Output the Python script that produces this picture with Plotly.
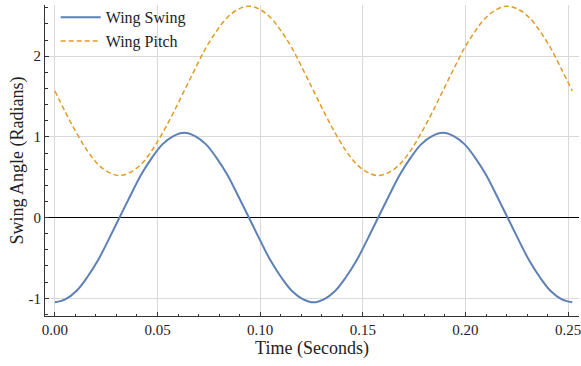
import plotly.graph_objects as go

# Sampled time points (seconds)
time_s = [0.0, 0.00525, 0.0105, 0.01575, 0.021, 0.02625, 0.0315, 0.03675, 0.042, 0.04725,
          0.0525, 0.05775, 0.063, 0.06825, 0.0735, 0.07875, 0.084, 0.08925, 0.0945, 0.09975,
          0.105, 0.11025, 0.1155, 0.12075, 0.126, 0.13125, 0.1365, 0.14175, 0.147, 0.15225,
          0.1575, 0.16275, 0.168, 0.17325, 0.1785, 0.18375, 0.189, 0.19425, 0.1995, 0.20475,
          0.21, 0.21525, 0.2205, 0.22575, 0.231, 0.23625, 0.2415, 0.24675, 0.252]

# Wing swing angle (radians)
wing_swing = [-1.05, -1.01, -0.91, -0.74, -0.53, -0.27, 0.0, 0.27, 0.53, 0.74,
              0.91, 1.01, 1.05, 1.01, 0.91, 0.74, 0.53, 0.27, 0.0, -0.27,
              -0.53, -0.74, -0.91, -1.01, -1.05, -1.01, -0.91, -0.74, -0.53, -0.27,
              0.0, 0.27, 0.53, 0.74, 0.91, 1.01, 1.05, 1.01, 0.91, 0.74,
              0.53, 0.27, 0.0, -0.27, -0.53, -0.74, -0.91, -1.01, -1.05]

# Wing pitch angle (radians)
wing_pitch = [1.57, 1.30, 1.05, 0.83, 0.66, 0.56, 0.52, 0.56, 0.66, 0.83,
              1.05, 1.30, 1.57, 1.84, 2.10, 2.31, 2.48, 2.58, 2.62, 2.58,
              2.48, 2.31, 2.10, 1.84, 1.57, 1.30, 1.05, 0.83, 0.66, 0.56,
              0.52, 0.56, 0.66, 0.83, 1.05, 1.30, 1.57, 1.84, 2.10, 2.31,
              2.48, 2.58, 2.62, 2.58, 2.48, 2.31, 2.10, 1.84, 1.57]

x_ticks = [0.0, 0.05, 0.10, 0.15, 0.20, 0.25]
x_tick_labels = ["0.00", "0.05", "0.10", "0.15", "0.20", "0.25"]
y_ticks = [-1, 0, 1, 2]
y_tick_labels = ["-1", "0", "1", "2"]

FONT = "Liberation Serif"

fig = go.Figure()
fig.add_trace(go.Scatter(x=time_s, y=wing_swing, mode="lines", name="Wing Swing",
                         line=dict(color="#5E81B5", width=2, shape="spline")))
fig.add_trace(go.Scatter(x=time_s, y=wing_pitch, mode="lines", name="Wing Pitch",
                         line=dict(color="#E19C24", width=1.5, dash="5px,3px", shape="spline")))

fig.update_layout(
    width=581, height=366,
    margin=dict(l=45, r=0, t=0, b=50),
    paper_bgcolor="white", plot_bgcolor="white",
    font=dict(family=FONT, size=15, color="#222222"),
    showlegend=True,
    legend=dict(x=0.02, y=1.015, xanchor="left", yanchor="top",
                bgcolor="rgba(255,255,255,0)", font=dict(size=16, family=FONT, color="#222222"),
                tracegroupgap=0, itemwidth=40),
    xaxis=dict(
        range=[-0.0048, 0.2553],
        tickvals=x_ticks, ticktext=x_tick_labels,
        showgrid=True, gridcolor="#D9D9D9", gridwidth=1,
        zeroline=False,
        showline=True, linecolor="#333333", linewidth=1,
        ticks="inside", ticklen=4, tickcolor="#333333",
        ticklabeloverflow="allow",
        minor=dict(dtick=0.01, ticks="inside", ticklen=2.5, tickcolor="#333333", showgrid=False),
        title=dict(text="Time (Seconds)", font=dict(size=18, family=FONT), standoff=4),
        tickfont=dict(size=15, family=FONT),
    ),
    yaxis=dict(
        range=[-1.22, 2.634],
        tickvals=y_ticks, ticktext=y_tick_labels,
        showgrid=True, gridcolor="#D9D9D9", gridwidth=1,
        zeroline=True, zerolinecolor="#000000", zerolinewidth=1,
        showline=True, linecolor="#333333", linewidth=1,
        ticks="inside", ticklen=4, tickcolor="#333333",
        minor=dict(dtick=0.2, ticks="inside", ticklen=2.5, tickcolor="#333333", showgrid=False),
        title=dict(text="Swing Angle (Radians)", font=dict(size=18, family=FONT), standoff=0),
        tickfont=dict(size=15, family=FONT),
    ),
)

fig.write_html("out.html")
